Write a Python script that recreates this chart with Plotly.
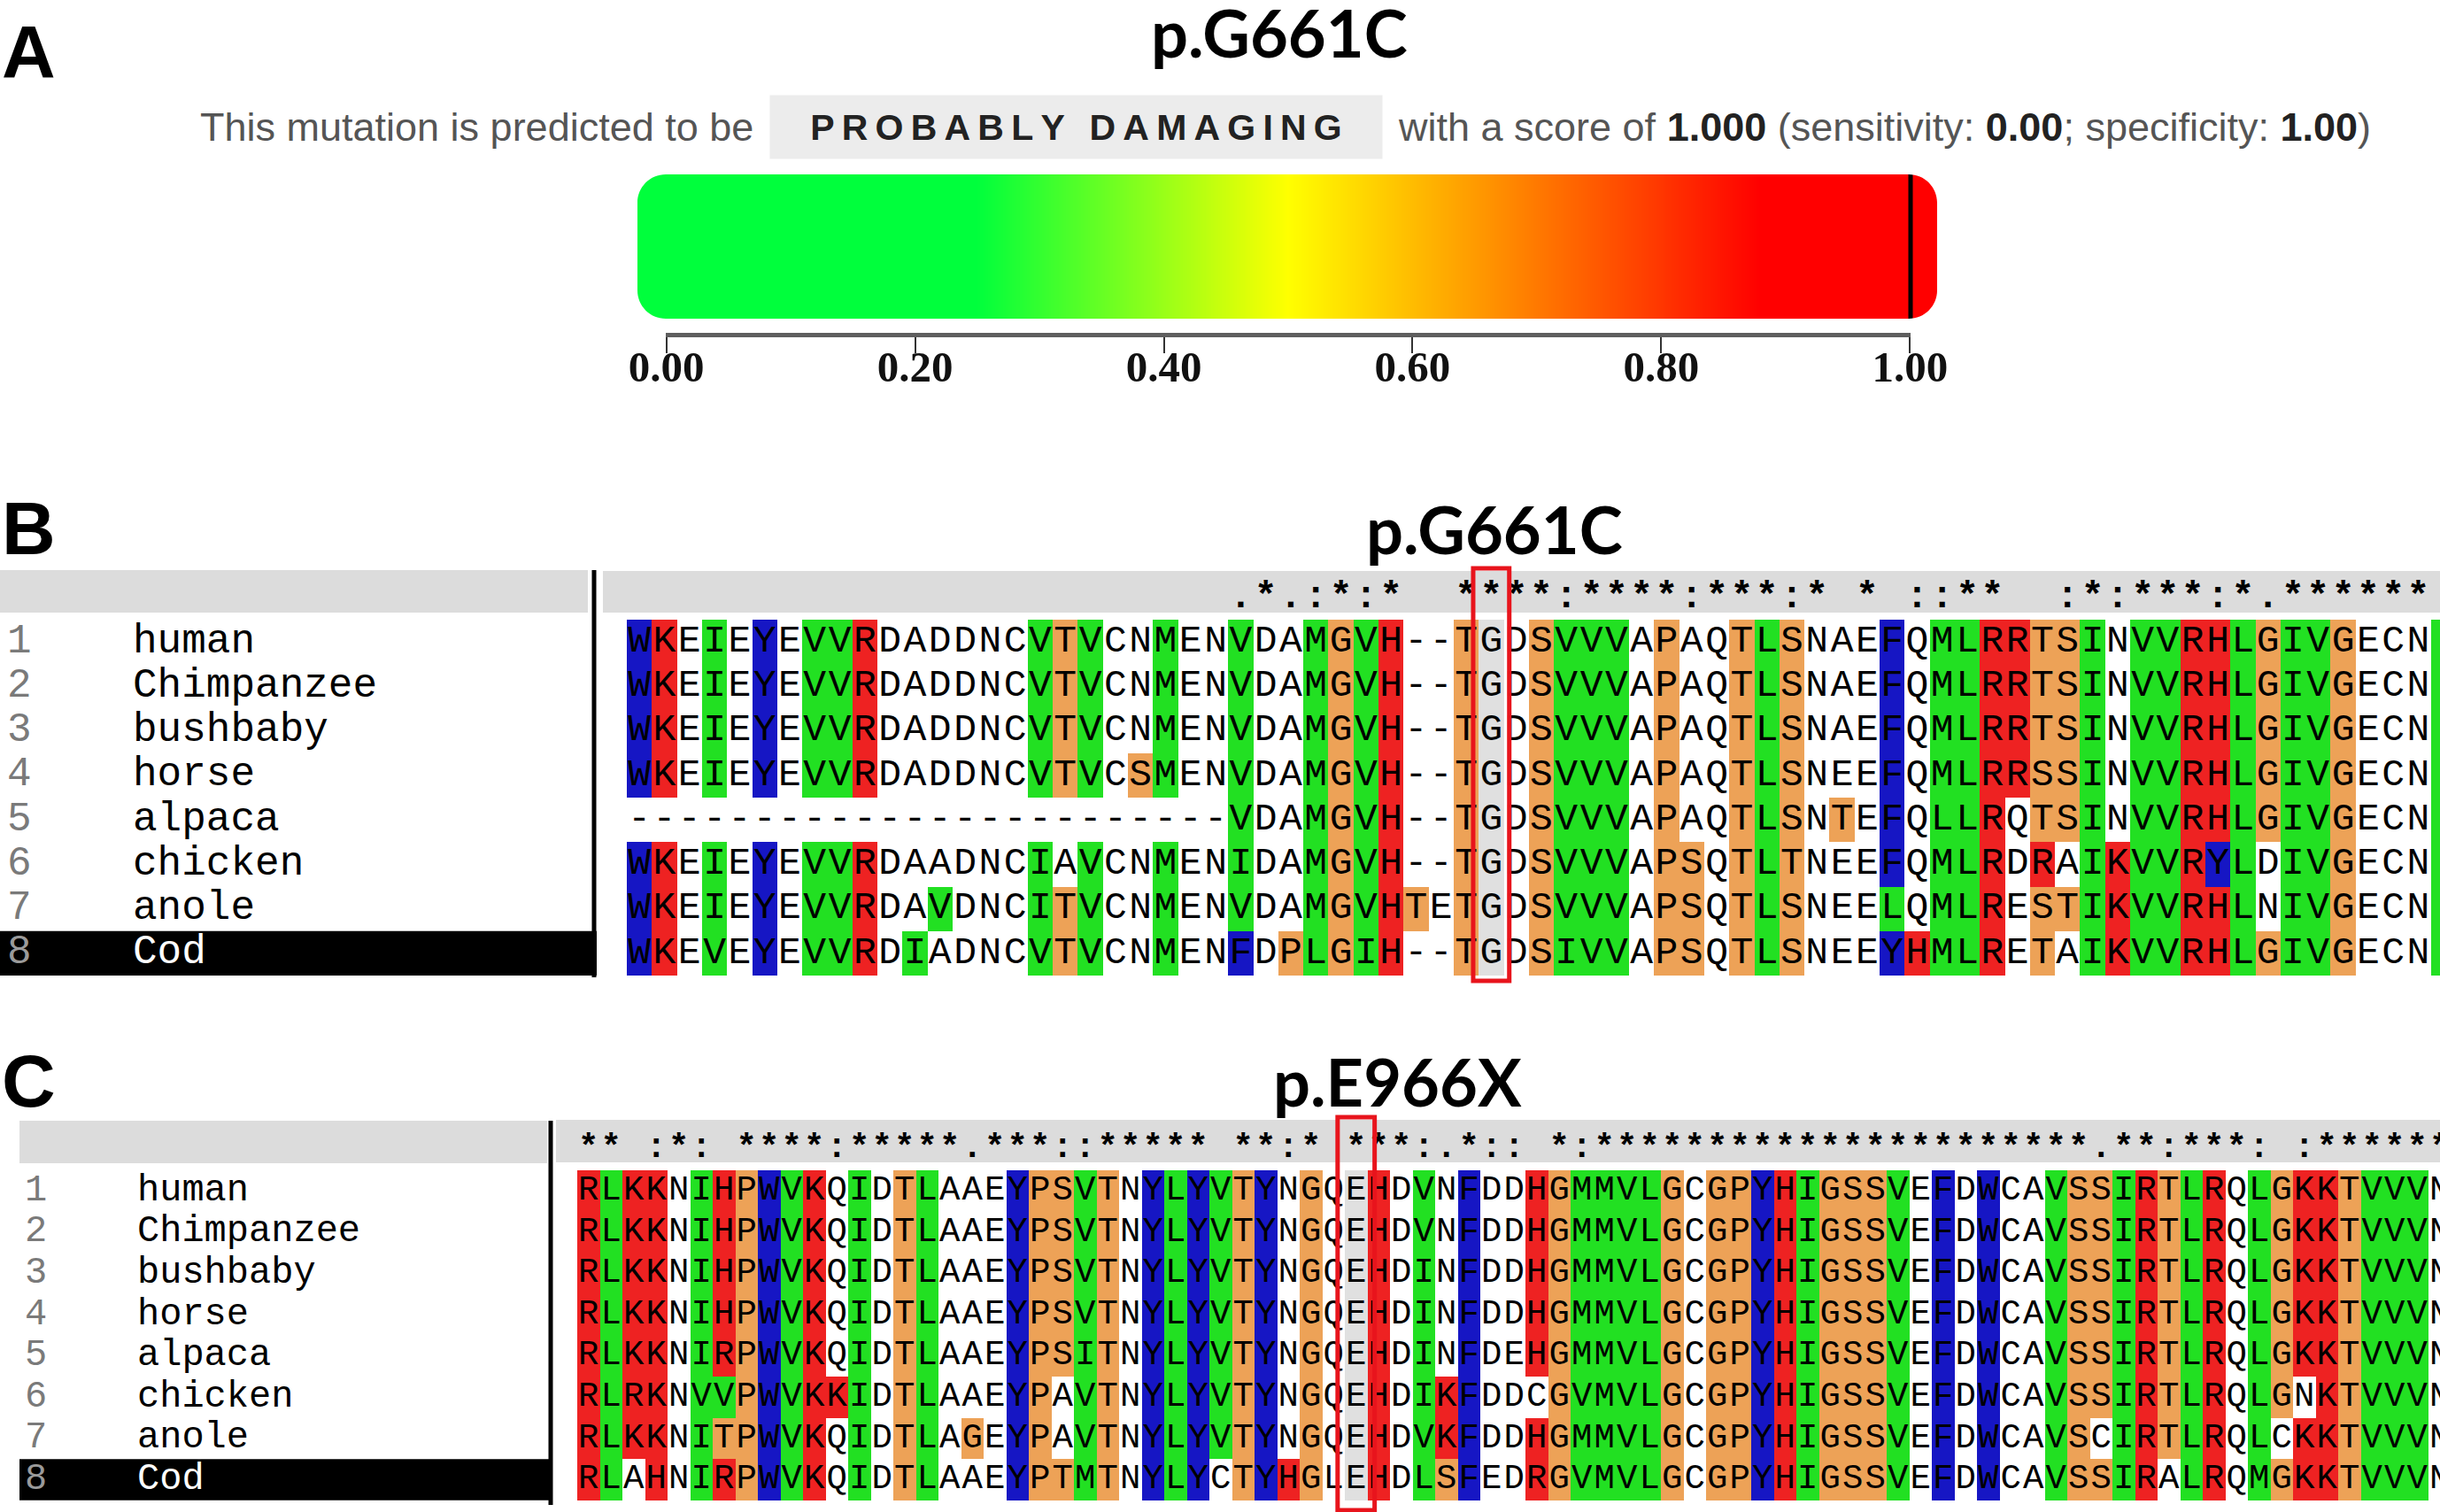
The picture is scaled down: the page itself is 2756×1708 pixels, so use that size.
####################################
# POLYPHEN SCORE + CONSERVATION ALIGNMENTS
####################################
import numpy as np
import plotly.graph_objects as go

W, H = 2756, 1708

# ---------------- data ----------------
MUTATION_B = "p.G661C"
MUTATION_C = "p.E966X"
VERDICT = "PROBABLY DAMAGING"
SCORE = 1.000
SENSITIVITY = 0.00
SPECIFICITY = 1.00
SCALE_TICKS = [0.0, 0.2, 0.4, 0.6, 0.8, 1.0]
BAR_STOPS = [(0.0, "#00ff3c"), (0.25, "#00ff3c"), (0.5, "#ffff00"), (0.88, "#ff0000"), (1.0, "#ff0000")]

SPECIES = ["human", "Chimpanzee", "bushbaby", "horse", "alpaca", "chicken", "anole", "Cod"]
SELECTED_ROW = 7

B_SEQS = [
    "WKEIEYEVVRDADDNCVTVCNMENVDAMGVH--TGDSVVVAPAQTLSNAEFQMLRRTSINVVRHLGIVGECN",
    "WKEIEYEVVRDADDNCVTVCNMENVDAMGVH--TGDSVVVAPAQTLSNAEFQMLRRTSINVVRHLGIVGECN",
    "WKEIEYEVVRDADDNCVTVCNMENVDAMGVH--TGDSVVVAPAQTLSNAEFQMLRRTSINVVRHLGIVGECN",
    "WKEIEYEVVRDADDNCVTVCSMENVDAMGVH--TGDSVVVAPAQTLSNEEFQMLRRSSINVVRHLGIVGECN",
    "------------------------VDAMGVH--TGDSVVVAPAQTLSNTEFQLLRQTSINVVRHLGIVGECN",
    "WKEIEYEVVRDAADNCIAVCNMENIDAMGVH--TGDSVVVAPSQTLTNEEFQMLRDRAIKVVRYLDIVGECN",
    "WKEIEYEVVRDAVDNCITVCNMENVDAMGVHTETGDSVVVAPSQTLSNEELQMLRESTIKVVRHLNIVGECN",
    "WKEVEYEVVRDIADNCVTVCNMENFDPLGIH--TGDSIVVAPSQTLSNEEYHMLRETAIKVVRHLGIVGECN",
]
# clustal colour class per residue: w none, b blue, r red, g green, o orange, s selected
# (one extra column: the next, cut-off residue still shows its colour at the right edge)
B_CLASSES = [
    "brwgwbwggrwwwwwwgogwwgwwgwwgogrwwoswogggwowwogowwwbwggrroogwggrrgoggowwwg",
    "brwgwbwggrwwwwwwgogwwgwwgwwgogrwwoswogggwowwogowwwbwggrroogwggrrgoggowwwg",
    "brwgwbwggrwwwwwwgogwwgwwgwwgogrwwoswogggwowwogowwwbwggrroogwggrrgoggowwwg",
    "brwgwbwggrwwwwwwgogwogwwgwwgogrwwoswogggwowwogowwwbwggrroogwggrrgoggowwwg",
    "wwwwwwwwwwwwwwwwwwwwwwwwgwwgogrwwoswogggwowwogowowbwggrwoogwggrrgoggowwwg",
    "brwgwbwggrwwwwwwgwgwwgwwgwwgogrwwoswogggwoowogowwwbwggrwrwgrggrbgwggowwwg",
    "brwgwbwggrwwgwwwgogwwgwwgwwgogrowoswogggwoowogowwwgwggrwoogrggrrgwggowwwg",
    "brwgwbwggrwgwwwwgogwwgwwbwogogrwwoswogggwoowogowwwbrggrwowgrggrrgoggowwwg",
]
B_CONSERVATION = " " * 24 + ".*.:*:*" + "  ****:****:***:* * ::**  :*:***:*.******"
B_MUT_COL = 34

C_SEQS = [
    "RLKKNIHPWVKQIDTLAAEYPSVTNYLYVTYNGQEHDVNFDDHGMMVLGCGPYHIGSSVEFDWCAVSSIRTLRQLGKKTVVVN",
    "RLKKNIHPWVKQIDTLAAEYPSVTNYLYVTYNGQEHDVNFDDHGMMVLGCGPYHIGSSVEFDWCAVSSIRTLRQLGKKTVVVN",
    "RLKKNIHPWVKQIDTLAAEYPSVTNYLYVTYNGQEHDINFDDHGMMVLGCGPYHIGSSVEFDWCAVSSIRTLRQLGKKTVVVN",
    "RLKKNIHPWVKQIDTLAAEYPSVTNYLYVTYNGQEHDINFDDHGMMVLGCGPYHIGSSVEFDWCAVSSIRTLRQLGKKTVVVN",
    "RLKKNIRPWVKQIDTLAAEYPSITNYLYVTYNGQEHDINFDEHGMMVLGCGPYHIGSSVEFDWCAVSSIRTLRQLGKKTVVVN",
    "RLRKNVVPWVKKIDTLAAEYPAVTNYLYVTYNGQEHDIKFDDCGVMVLGCGPYHIGSSVEFDWCAVSSIRTLRQLGNKTVVVN",
    "RLKKNITPWVKQIDTLAGEYPAVTNYLYVTYNGQEHDVKFDDHGMMVLGCGPYHIGSSVEFDWCAVSCIRTLRQLCKKTVVVN",
    "RLAHNIRPWVKQIDTLAAEYPTMTNYLYCTYHGLEHDLSFEDRGVMVLGCGPYHIGSSVEFDWCAVSSIRALRQMGKKTVVVN",
]
C_CLASSES = [
    "rgrrwgrobgrwgwogwwwboogowbgbgobwowsrwgwbwwroggggowoobrgooogwbwbwwgoogrogrwgorrogggw",
    "rgrrwgrobgrwgwogwwwboogowbgbgobwowsrwgwbwwroggggowoobrgooogwbwbwwgoogrogrwgorrogggw",
    "rgrrwgrobgrwgwogwwwboogowbgbgobwowsrwgwbwwroggggowoobrgooogwbwbwwgoogrogrwgorrogggw",
    "rgrrwgrobgrwgwogwwwboogowbgbgobwowsrwgwbwwroggggowoobrgooogwbwbwwgoogrogrwgorrogggw",
    "rgrrwgrobgrwgwogwwwboogowbgbgobwowsrwgwbwwroggggowoobrgooogwbwbwwgoogrogrwgorrogggw",
    "rgrrwggobgrrgwogwwwbowgowbgbgobwowsrwgrbwwwoggggowoobrgooogwbwbwwgoogrogrwgowrogggw",
    "rgrrwgoobgrwgwogwowbowgowbgbgobwowsrwgrbwwroggggowoobrgooogwbwbwwgowgrogrwgwrrogggw",
    "rgwrwgrobgrwgwogwwwboogowbgbwobrowsrwgobwwroggggowoobrgooogwbwbwwgoogrwgrwgorrogggw",
]
C_CONSERVATION = ("** :*: ****:*****.***::***** **:* ***:.*:: *:" + "*" * 22
                  + ".**:***: :******")
C_MUT_COL = 34

# ---------------- style ----------------
CLASS_CODES = {"w": 0, "b": 1, "r": 2, "g": 3, "o": 4, "s": 5}
CLASS_COLORS = ["#ffffff", "#1616c4", "#ee2222", "#22e022", "#eda257", "#e0e0e0"]
MONO = "Liberation Mono, Courier New, monospace"
SANS = "Liberation Sans, Arial, sans-serif"


def fx(p):
    return p / W


def fy(p):
    return 1 - p / H


def discrete_scale(colors):
    n = len(colors)
    scale = []
    for i, c in enumerate(colors):
        scale += [[i / n, c], [(i + 1) / n, c]]
    return scale


def row_of(p, row0, rh):
    return (p - row0) / rh - 0.5


def add_alignment(fig, n, seqs, classes, cons, g, font_size):
    '''
    coloured alignment block on axis pair n; g holds the pixel geometry
    '''
    xa, ya = f"x{n}", f"y{n}"
    ncol = len(classes[0])
    z = [[CLASS_CODES[c] for c in row] for row in classes]
    fig.add_trace(go.Heatmap(z=z, x=list(range(ncol)), y=list(range(len(seqs))),
                             xaxis=xa, yaxis=ya, colorscale=discrete_scale(CLASS_COLORS),
                             zmin=-0.5, zmax=len(CLASS_COLORS) - 0.5, showscale=False,
                             hoverinfo="skip"))
    xs, ys, ts = [], [], []
    for r, s in enumerate(seqs):
        for c, ch in enumerate(s):
            xs.append(c)
            ys.append(r)
            ts.append(ch)
    fig.add_trace(go.Scatter(x=xs, y=ys, text=ts, mode="text", xaxis=xa, yaxis=ya,
                             textfont=dict(family=MONO, size=font_size, color="#000"),
                             hoverinfo="skip"))
    cx = [c for c, ch in enumerate(cons) if ch != " "]
    ct = [ch for ch in cons if ch != " "]
    cy = row_of(g["cons_y"], g["row0"], g["rh"])
    fig.add_trace(go.Scatter(x=cx, y=[cy] * len(cx), text=ct, mode="text", xaxis=xa, yaxis=ya,
                             textfont=dict(family=MONO, size=font_size, color="#000", weight="bold"),
                             hoverinfo="skip"))
    x0, x1, y0, y1 = g["box"]
    fig.update_layout(**{
        f"xaxis{n}": dict(domain=[fx(x0), fx(x1)], anchor=ya, visible=False, fixedrange=True,
                          range=[(x0 - g["col0"]) / g["cw"] - 0.5, (x1 - g["col0"]) / g["cw"] - 0.5]),
        f"yaxis{n}": dict(domain=[fy(y1), fy(y0)], anchor=xa, visible=False, fixedrange=True,
                          range=[row_of(y1, g["row0"], g["rh"]), row_of(y0, g["row0"], g["rh"])]),
    })
    # grey header band
    hx0, hx1, hy0, hy1 = g["header"]
    fig.add_shape(type="rect", xref="paper", yref="paper", x0=fx(hx0), x1=fx(hx1),
                  y0=fy(hy1), y1=fy(hy0), fillcolor="#dcdcdc", line_width=0, layer="below")
    # red box on the mutated column
    mc, half = g["mut_col"], g["box_half"]
    fig.add_shape(type="rect", xref=xa, yref=ya, x0=mc - half, x1=mc + half,
                  y0=row_of(g["red_y"][0], g["row0"], g["rh"]),
                  y1=row_of(g["red_y"][1], g["row0"], g["rh"]),
                  line=dict(color="#e8141c", width=5), layer="above")


def add_labels(fig, n, g, num_x, name_x, font_size):
    '''
    species name panel left of an alignment
    '''
    xa, ya = f"x{n}", f"y{n}"
    x0, x1, y0, y1 = g["lbox"]
    rows = list(range(len(SPECIES)))
    num_col = ["#7a7a7a"] * len(SPECIES)
    name_col = ["#000"] * len(SPECIES)
    num_col[SELECTED_ROW] = "#9a9a9a"
    name_col[SELECTED_ROW] = "#ffffff"
    fig.add_trace(go.Scatter(x=[num_x] * len(rows), y=rows, text=[str(r + 1) for r in rows],
                             mode="text", textposition="middle right", xaxis=xa, yaxis=ya,
                             textfont=dict(family=MONO, size=font_size, color=num_col),
                             hoverinfo="skip"))
    fig.add_trace(go.Scatter(x=[name_x] * len(rows), y=rows, text=SPECIES,
                             mode="text", textposition="middle right", xaxis=xa, yaxis=ya,
                             textfont=dict(family=MONO, size=font_size, color=name_col),
                             hoverinfo="skip"))
    fig.update_layout(**{
        f"xaxis{n}": dict(domain=[fx(x0), fx(x1)], anchor=ya, visible=False, fixedrange=True,
                          range=[x0, x1]),
        f"yaxis{n}": dict(domain=[fy(y1), fy(y0)], anchor=xa, visible=False, fixedrange=True,
                          range=[row_of(y1, g["row0"], g["rh"]), row_of(y0, g["row0"], g["rh"])]),
    })
    hx0, hx1, hy0, hy1 = g["lheader"]
    fig.add_shape(type="rect", xref="paper", yref="paper", x0=fx(hx0), x1=fx(hx1),
                  y0=fy(hy1), y1=fy(hy0), fillcolor="#dcdcdc", line_width=0, layer="below")
    fig.add_shape(type="rect", xref=xa, yref=ya, x0=g["lsel"][0], x1=g["lsel"][1],
                  y0=SELECTED_ROW - 0.5, y1=SELECTED_ROW + 0.5, fillcolor="#000",
                  line_width=0, layer="below")
    vx, vy0, vy1 = g["vline"]
    fig.add_shape(type="line", xref="paper", yref="paper", x0=fx(vx), x1=fx(vx),
                  y0=fy(vy0), y1=fy(vy1), line=dict(color="#000", width=5))


fig = go.Figure()

# ---------------- panel A : score bar ----------------
BAR_PX = (720, 2188, 197, 360)
SCALE_PX = (752, 2158)
upp = 1.0 / (SCALE_PX[1] - SCALE_PX[0])
xl = (BAR_PX[0] - SCALE_PX[0]) * upp
xr = (BAR_PX[1] - SCALE_PX[0]) * upp
grid = np.linspace(xl, xr, 700)
fig.add_trace(go.Heatmap(z=[np.clip(grid, 0, 1).tolist()] * 2, x=grid.tolist(), y=[0, 1],
                         colorscale=[[p, c] for p, c in BAR_STOPS], zmin=0, zmax=1,
                         showscale=False, hoverinfo="skip", xaxis="x", yaxis="y"))
fig.add_trace(go.Scatter(x=[SCORE, SCORE], y=[0, 1], mode="lines",
                         line=dict(color="#000", width=5), hoverinfo="skip", xaxis="x", yaxis="y"))
fig.add_trace(go.Scatter(x=[0, 1], y=[0, 0], mode="markers", marker=dict(opacity=0),
                         hoverinfo="skip", xaxis="x2", yaxis="y2"))

# rounded ends of the bar (white corner masks)
rad = 32
rx, ry = rad * upp, rad / (BAR_PX[3] - BAR_PX[2])
k = 0.5523
for sx, ex in ((1, xl), (-1, xr)):
    for top in (True, False):
        yc = 1 if top else 0
        sy = -1 if top else 1
        path = (f"M {ex},{yc} L {ex + sx * rx},{yc} "
                f"C {ex + sx * rx * (1 - k)},{yc} {ex},{yc + sy * ry * (1 - k)} {ex},{yc + sy * ry} Z")
        fig.add_shape(type="path", path=path, xref="x", yref="y", fillcolor="#fff",
                      line_width=0, layer="above")

fig.update_layout(
    xaxis=dict(domain=[fx(BAR_PX[0]), fx(BAR_PX[1])], range=[xl, xr], visible=False,
               fixedrange=True, anchor="y"),
    yaxis=dict(domain=[fy(BAR_PX[3]), fy(BAR_PX[2])], range=[0, 1], visible=False,
               fixedrange=True, anchor="x"),
    xaxis2=dict(domain=[fx(SCALE_PX[0]), fx(SCALE_PX[1])], range=[-0.0004, 1.0004], anchor="y2",
                showline=True, linecolor="#5e5e5e", linewidth=5, ticks="outside", ticklen=18,
                tickwidth=2, tickcolor="#333", tickvals=SCALE_TICKS, automargin=False,
                ticktext=[f"{t:.2f}" for t in SCALE_TICKS], showgrid=False, zeroline=False,
                ticklabelstandoff=-27,
                tickfont=dict(family="Liberation Serif, serif", size=49, color="#111", weight="bold"),
                fixedrange=True),
    yaxis2=dict(domain=[fy(376), fy(350)], range=[0, 1], visible=False, anchor="x2",
                fixedrange=True),
)

# ---------------- panel B / C ----------------
GEOM_B = dict(col0=708, cw=28.3, row0=700, rh=50.25, box=(681, 2756, 638, 1112),
              header=(681, 2756, 645, 692), cons_y=675, mut_col=B_MUT_COL, box_half=0.72,
              red_y=(642, 1108), lbox=(0, 676, 638, 1112), lheader=(0, 664, 644, 692),
              lsel=(0, 674), vline=(671, 644, 1104))
GEOM_C = dict(col0=652, cw=25.5, row0=1322, rh=46.6, box=(628, 2756, 1256, 1708),
              header=(628, 2756, 1265, 1313), cons_y=1297, mut_col=C_MUT_COL, box_half=0.82,
              red_y=(1262, 1706), lbox=(22, 624, 1256, 1708), lheader=(22, 618, 1266, 1314),
              lsel=(22, 622), vline=(622, 1266, 1700))

add_alignment(fig, 3, B_SEQS, B_CLASSES, B_CONSERVATION, GEOM_B, 43)
add_labels(fig, 4, GEOM_B, 8, 150, 46)
add_alignment(fig, 5, C_SEQS, C_CLASSES, C_CONSERVATION, GEOM_C, 39)
add_labels(fig, 6, GEOM_C, 28, 155, 42)

# ---------------- texts ----------------
grey = "#555555"
dark = "#222222"
annotations = [
    dict(text="A", x=fx(0), y=fy(59), xanchor="left", font=dict(family=SANS, size=84, color="#000", weight="bold")),
    dict(text="B", x=fx(0), y=fy(597), xanchor="left", font=dict(family=SANS, size=84, color="#000", weight="bold")),
    dict(text="C", x=fx(0), y=fy(1221), xanchor="left", font=dict(family=SANS, size=84, color="#000", weight="bold")),
    dict(text=MUTATION_B, x=fx(1445), y=fy(36), xanchor="center",
         font=dict(family="Lato, sans-serif", size=74, color="#000", weight="bold")),
    dict(text=MUTATION_B, x=fx(1688), y=fy(597), xanchor="center",
         font=dict(family="Lato, sans-serif", size=74, color="#000", weight="bold")),
    dict(text=MUTATION_C, x=fx(1578), y=fy(1221), xanchor="center",
         font=dict(family="Lato, sans-serif", size=74, color="#000", weight="bold")),
    dict(text="This mutation is predicted to be", x=fx(853), y=fy(143), xanchor="right",
         font=dict(family=SANS, size=45, color=grey)),
    dict(text="\u2009".join(VERDICT), x=fx(1215), y=fy(143), xanchor="center",
         width=691, height=71, bgcolor="#ececec", borderpad=0,
         font=dict(family=SANS, size=41, color=dark, weight="bold")),
    dict(text=(f"with a score of <b><span style='color:{dark}'>{SCORE:.3f}</span></b> (sensitivity: "
               f"<b><span style='color:{dark}'>{SENSITIVITY:.2f}</span></b>; specificity: "
               f"<b><span style='color:{dark}'>{SPECIFICITY:.2f}</span></b>)"),
         x=fx(1577), y=fy(143), xanchor="left", font=dict(family=SANS, size=45, color=grey)),
]
for a in annotations:
    a.update(xref="paper", yref="paper", showarrow=False, yanchor=a.get("yanchor", "middle"))

fig.update_layout(template="none", width=W, height=H, margin=dict(l=0, r=0, t=0, b=0, pad=0),
                  autosize=False, paper_bgcolor="#ffffff", plot_bgcolor="rgba(0,0,0,0)",
                  showlegend=False, annotations=annotations)

# page without body margin so the figure fills the window exactly
fig.write_html("out.html", config={"displayModeBar": False},
               post_script="document.body.style.margin='0';document.body.style.overflow='hidden';")
